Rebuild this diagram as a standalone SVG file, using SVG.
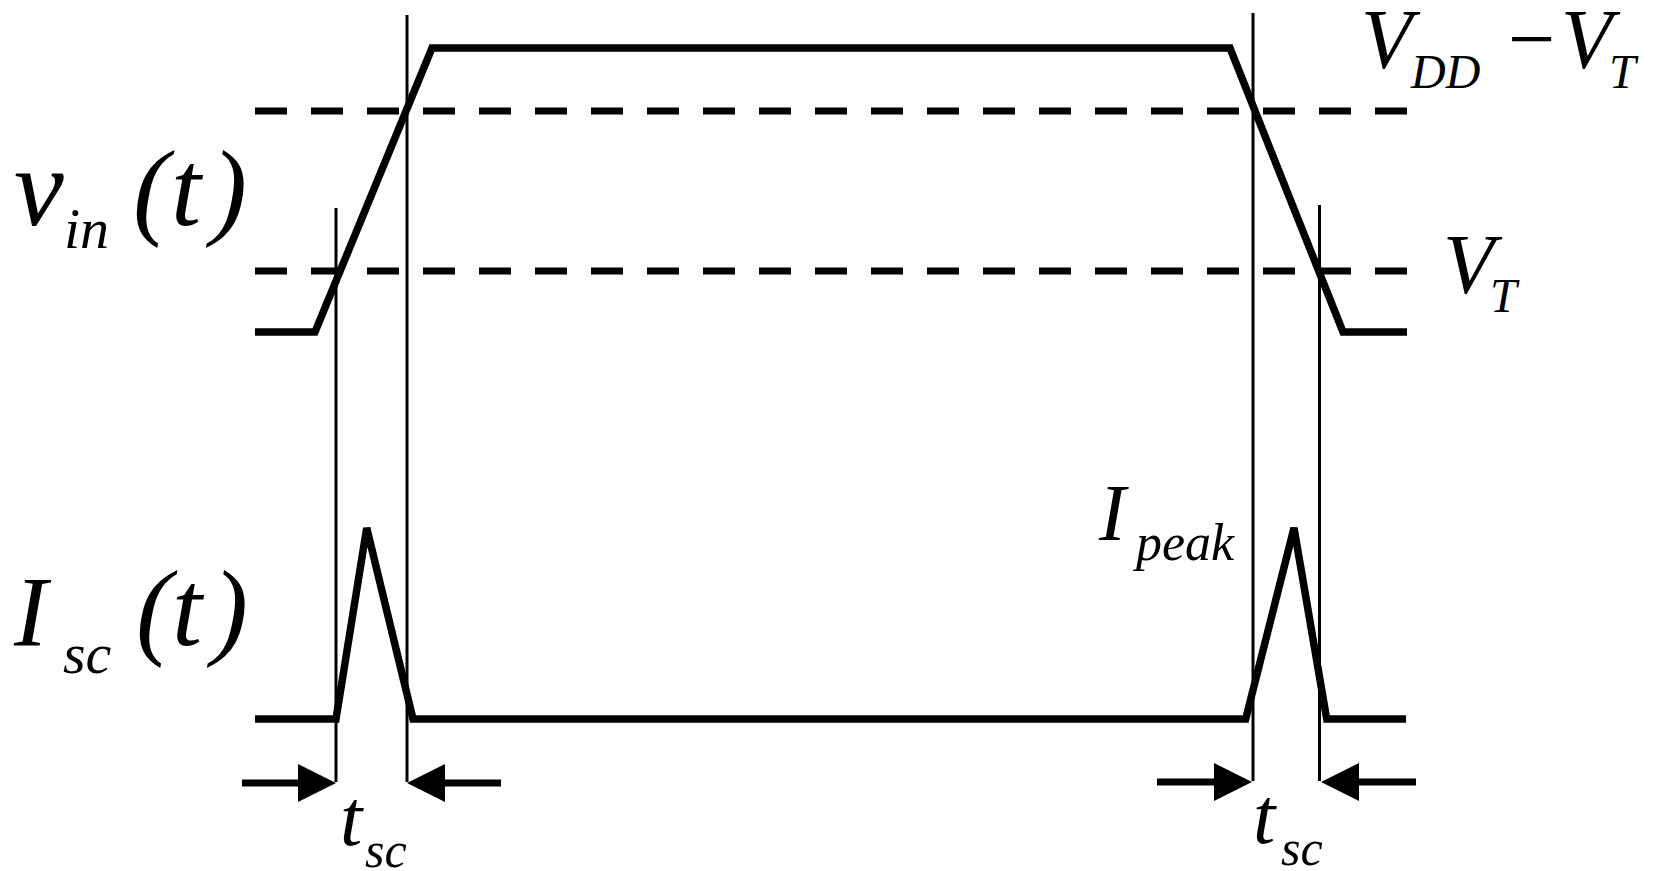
<svg xmlns="http://www.w3.org/2000/svg" width="1658" height="871" viewBox="0 0 1658 871">
<style>
.thick{fill:none;stroke:#000;stroke-width:7.5;stroke-linejoin:miter;stroke-linecap:butt}
.thin{fill:none;stroke:#000;stroke-width:3}
.dash{fill:none;stroke:#000;stroke-width:7;stroke-dasharray:32 24}
.arr{fill:none;stroke:#000;stroke-width:7}
.head{fill:#000;stroke:none}
text{font-family:"Liberation Serif","Times New Roman",serif;font-style:italic;fill:#000}
.big{font-size:108px}
.bigI{font-size:100px}
.mid{font-size:84px}
.ip{font-size:80px}
.ts{font-size:80px}
.sub{font-size:58px}
.subV{font-size:48px}
.subP{font-size:52px}
.sub2{font-size:50px}
</style>
<rect width="1658" height="871" fill="#fff"/>
<g id="connectors">
<line class="dash" x1="255" y1="111" x2="1407" y2="111"/>
<line class="dash" x1="255" y1="271" x2="1407" y2="271"/>
<line class="thin" x1="407" y1="15" x2="407" y2="782"/>
<line class="thin" x1="336" y1="208" x2="336" y2="782"/>
<line class="thin" x1="1253" y1="13" x2="1253" y2="781"/>
<line class="thin" x1="1319.5" y1="205" x2="1319.5" y2="781"/>
</g>
<g id="vin-wave">
<polyline class="thick" points="255,332 315,332 432,48 1230,48 1343,332 1407,332"/>
</g>
<g id="isc-wave">
<polyline class="thick" points="255,719 336,719 366.7,528 413,719 1245.7,719 1294,528 1326.7,719 1406,719"/>
</g>
<g id="tsc-left-arrows">
<line class="arr" x1="242" y1="783" x2="300" y2="783"/>
<polygon class="head" points="298,764 336,783 298,802"/>
<line class="arr" x1="443" y1="783" x2="501" y2="783"/>
<polygon class="head" points="445,764 407,783 445,802"/>
</g>
<g id="tsc-right-arrows">
<line class="arr" x1="1157" y1="782" x2="1215" y2="782"/>
<polygon class="head" points="1214,763 1252,782 1214,801"/>
<line class="arr" x1="1358" y1="782" x2="1416" y2="782"/>
<polygon class="head" points="1359,763 1321,782 1359,801"/>
</g>
<g id="label-vin">
<text class="big" x="14" y="225" style="font-size:112px">v</text>
<text class="sub" x="64" y="248">in</text>
<text class="big" x="133" y="225">(</text>
<text class="big" x="171" y="225">t</text>
<text class="big" x="211" y="225">)</text>
</g>
<g id="label-isc">
<text class="bigI" x="14" y="645">I</text>
<text class="sub" x="63" y="673">sc</text>
<text class="big" x="136" y="645">(</text>
<text class="big" x="172" y="645">t</text>
<text class="big" x="212" y="645">)</text>
</g>
<g id="label-vdd-vt">
<text class="mid" x="1361" y="68">V</text>
<text class="subV" x="1411" y="88">DD</text>
<text class="mid" x="1508" y="67" style="font-style:normal">−</text>
<text class="mid" x="1561" y="68">V</text>
<text class="subV" x="1609" y="88">T</text>
</g>
<g id="label-vt">
<text class="mid" x="1443" y="293">V</text>
<text class="subV" x="1490" y="312">T</text>
</g>
<g id="label-ipeak">
<text class="ip" x="1099" y="540">I</text>
<text class="subP" x="1136" y="560">peak</text>
</g>
<g id="label-tsc-left">
<text class="ts" x="340" y="845">t</text>
<text class="sub2" x="365" y="867">sc</text>
</g>
<g id="label-tsc-right">
<text class="ts" x="1253" y="843">t</text>
<text class="sub2" x="1281" y="865">sc</text>
</g>
</svg>
